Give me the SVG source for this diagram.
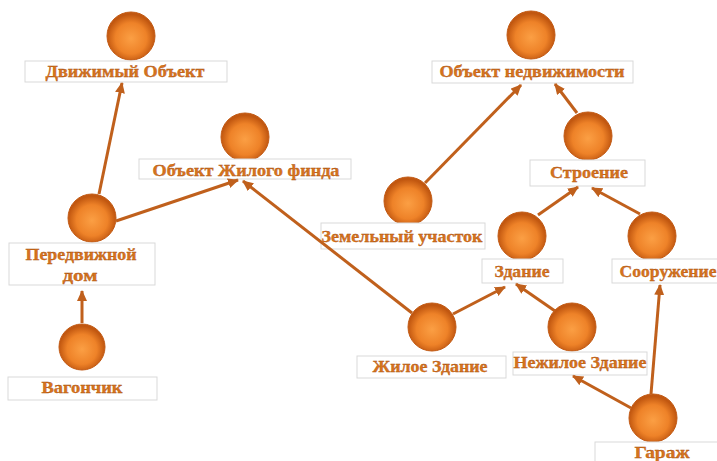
<svg xmlns="http://www.w3.org/2000/svg" width="717" height="461" viewBox="0 0 717 461">
<defs>
<radialGradient id="ball" cx="50%" cy="55%" r="50%">
<stop offset="0%" stop-color="#fb9f44"/>
<stop offset="65%" stop-color="#ee8228"/>
<stop offset="100%" stop-color="#c15710"/>
</radialGradient>
<marker id="arr" markerUnits="userSpaceOnUse" markerWidth="11" markerHeight="10" refX="10" refY="5" orient="auto">
<path d="M0,0 L11,5 L0,10 z" fill="#c0601c"/>
</marker>
<style>
.ball{fill:url(#ball);stroke:#c25a14;stroke-width:1}
.box{fill:#ffffff;stroke:#d9d9d9;stroke-width:1}
.lbl{font-family:"Liberation Serif","DejaVu Serif",serif;font-size:16px;font-weight:bold;fill:#d8741d;stroke:#a8500f;stroke-width:0.3;text-anchor:middle}
.edge{stroke:#c0601c;stroke-width:3;fill:none;marker-end:url(#arr)}
</style>
</defs>
<rect width="717" height="461" fill="#ffffff"/>
<g id="n-dvizh">
<circle class="ball" cx="131" cy="36" r="24"/>
<rect class="box" x="25" y="61" width="202" height="21"/>
<text class="lbl" x="125" y="77" textLength="159" lengthAdjust="spacingAndGlyphs">Движимый Объект</text>
</g>
<g id="n-zhilfond">
<circle class="ball" cx="245" cy="137" r="24"/>
<rect class="box" x="139" y="159" width="212" height="20"/>
<text class="lbl" x="246" y="176" textLength="187" lengthAdjust="spacingAndGlyphs">Объект Жилого финда</text>
</g>
<g id="n-nedv">
<circle class="ball" cx="531" cy="35" r="24"/>
<rect class="box" x="432" y="61" width="201" height="22"/>
<text class="lbl" x="532" y="77" textLength="185" lengthAdjust="spacingAndGlyphs">Объект недвижимости</text>
</g>
<g id="n-stroenie">
<circle class="ball" cx="588" cy="136" r="24"/>
<rect class="box" x="530" y="160" width="115" height="26"/>
<text class="lbl" x="589" y="178" textLength="78" lengthAdjust="spacingAndGlyphs">Строение</text>
</g>
<g id="n-peredv">
<circle class="ball" cx="92" cy="218" r="24"/>
<rect class="box" x="9" y="243" width="146" height="42"/>
<text class="lbl" x="81" y="260" textLength="111" lengthAdjust="spacingAndGlyphs">Передвижной</text>
<text class="lbl" x="80" y="281" textLength="35" lengthAdjust="spacingAndGlyphs">дом</text>
</g>
<g id="n-zemel">
<circle class="ball" cx="408" cy="201" r="24"/>
<rect class="box" x="321" y="223" width="164" height="26"/>
<text class="lbl" x="402" y="242" textLength="161" lengthAdjust="spacingAndGlyphs">Земельный участок</text>
</g>
<g id="n-zdanie">
<circle class="ball" cx="522" cy="236" r="24"/>
<rect class="box" x="482" y="259" width="81" height="24"/>
<text class="lbl" x="522" y="277" textLength="55" lengthAdjust="spacingAndGlyphs">Здание</text>
</g>
<g id="n-sooruzh">
<circle class="ball" cx="652" cy="236" r="24"/>
<rect class="box" x="612" y="259" width="110" height="24"/>
<text class="lbl" x="668" y="277" textLength="97" lengthAdjust="spacingAndGlyphs">Сооружение</text>
</g>
<g id="n-vagon">
<circle class="ball" cx="82" cy="347" r="23"/>
<rect class="box" x="8" y="377" width="149" height="23"/>
<text class="lbl" x="82" y="393" textLength="81" lengthAdjust="spacingAndGlyphs">Вагончик</text>
</g>
<g id="n-zhiloe">
<circle class="ball" cx="432" cy="327" r="24"/>
<rect class="box" x="357" y="356" width="149" height="22"/>
<text class="lbl" x="430" y="372" textLength="115" lengthAdjust="spacingAndGlyphs">Жилое Здание</text>
</g>
<g id="n-nezhiloe">
<circle class="ball" cx="572" cy="327" r="24"/>
<rect class="box" x="513" y="352" width="134" height="23"/>
<text class="lbl" x="580" y="368" textLength="133" lengthAdjust="spacingAndGlyphs">Нежилое Здание</text>
</g>
<g id="n-garazh">
<circle class="ball" cx="653" cy="418" r="24"/>
<rect class="box" x="595" y="442" width="130" height="25"/>
<text class="lbl" x="662" y="458" textLength="55" lengthAdjust="spacingAndGlyphs">Гараж</text>
</g>
<g id="connectors">
<line class="edge" x1="99" y1="194" x2="122" y2="83"/>
<line class="edge" x1="116" y1="221" x2="238" y2="180"/>
<line class="edge" x1="412" y1="313" x2="243" y2="181"/>
<line class="edge" x1="82" y1="323" x2="82" y2="291"/>
<line class="edge" x1="425" y1="183" x2="521" y2="85"/>
<line class="edge" x1="577" y1="113" x2="555" y2="84"/>
<line class="edge" x1="538" y1="215" x2="578" y2="187"/>
<line class="edge" x1="640" y1="214" x2="592" y2="188"/>
<line class="edge" x1="453" y1="314" x2="505" y2="287"/>
<line class="edge" x1="555" y1="311" x2="516" y2="284"/>
<line class="edge" x1="651" y1="394" x2="660" y2="285"/>
<line class="edge" x1="631" y1="408" x2="573" y2="376"/>
</g>
</svg>
